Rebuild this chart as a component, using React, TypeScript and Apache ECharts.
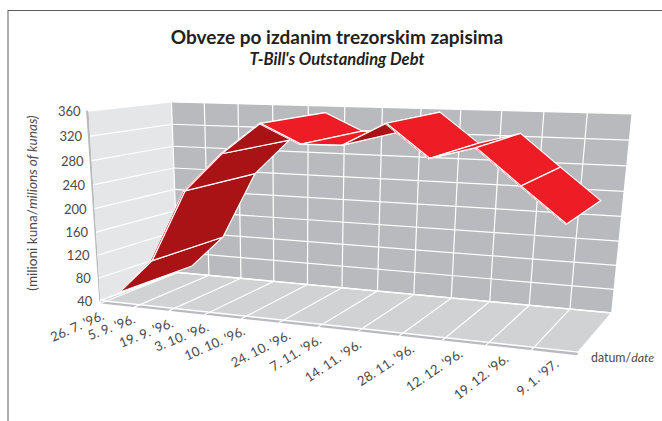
import React, { useEffect, useRef } from "react";
import * as echarts from "echarts";

const categories = ["26. 7. '96.", "5. 9. '96.", "19. 9. '96.", "3. 10. '96.", "10. 10. '96.", "24. 10. '96.", "7. 11. '96.", "14. 11. '96.", "28. 11. '96.", "12. 12. '96.", "19. 12. '96.", "9. 1. '97."];
const debt = [56, 117, 238, 300, 349, 320, 321, 355, 307, 325, 274, 224];
const yTicks = [40, 80, 120, 160, 200, 240, 280, 320, 360];
const yMin = 40;
const yMax = 360;

const W = 662;
const H = 421;
const FONT = "Lato, 'Noto Sans', sans-serif";
const WALL_BACK = "#B9BABD";
const WALL_SIDE = "#E5E6E8";
const FLOOR = "#D1D2D4";
const BRIGHT = "#EE1C25";
const DARK = "#A91316";
const TEXT = "#4A4A4C";

// camera anchors: unit-box corner -> page pixel
const anchors: [number, number, number, number, number][] = [
  [0, 0, 0, 101, 300],
  [1, 0, 0, 578, 353],
  [0, 0, 1, 177, 273],
  [1, 0, 1, 612, 312],
  [0, 1, 0, 88, 111],
  [0, 1, 1, 172, 102],
  [1, 1, 1, 632, 114],
];
const Z_FRONT = 0.035;
const Z_EDGE = 0.01;
const Z_BACK = 0.985;
// shift of each date label's end, from the centre of its floor cell
const labelDx = [-14, -17, -14, -15, -16, -9, -18, -19, -8, -3, -2, 2];
const labelDeg = [24, 21, 22, 22, 24, 27, 31, 34, 33, 34, 38, 39];

function solveCamera(): number[] {
  const rows: number[][] = [];
  const rhs: number[] = [];
  anchors.forEach(([x, y, z, u, v]) => {
    rows.push([x, y, z, 1, 0, 0, 0, 0, -u * x, -u * y, -u * z]);
    rhs.push(u);
    rows.push([0, 0, 0, 0, x, y, z, 1, -v * x, -v * y, -v * z]);
    rhs.push(v);
  });
  const n = 11;
  const M: number[][] = [];
  for (let i = 0; i < n; i++) {
    const r: number[] = [];
    for (let j = 0; j < n; j++) {
      let s = 0;
      rows.forEach((row) => (s += row[i] * row[j]));
      r.push(s);
    }
    let b = 0;
    rows.forEach((row, k) => (b += row[i] * rhs[k]));
    r.push(b);
    M.push(r);
  }
  for (let c = 0; c < n; c++) {
    let p = c;
    for (let i = c + 1; i < n; i++) if (Math.abs(M[i][c]) > Math.abs(M[p][c])) p = i;
    [M[c], M[p]] = [M[p], M[c]];
    for (let i = 0; i < n; i++) {
      if (i === c) continue;
      const f = M[i][c] / M[c][c];
      for (let j = c; j <= n; j++) M[i][j] -= f * M[c][j];
    }
  }
  return M.map((r, i) => r[n] / r[i]);
}
const cam = solveCamera();
const project = (x: number, y: number, z: number): [number, number] => {
  const w = cam[8] * x + cam[9] * y + cam[10] * z + 1;
  return [
    (cam[0] * x + cam[1] * y + cam[2] * z + cam[3]) / w,
    (cam[4] * x + cam[5] * y + cam[6] * z + cam[7]) / w,
  ];
};

export default function App() {
  const ref = useRef<HTMLDivElement>(null);
  useEffect(() => {
    const chart = echarts.init(ref.current!, null, { renderer: "svg" });
    const n = categories.length;
    const white = (lw: number) => ({ stroke: "#FFFFFF", lineWidth: lw, fill: "none" });
    const poly = (points: number[][], fill: string, lw = 0) => ({
      type: "polygon",
      shape: { points },
      style: { fill, stroke: lw ? "#FFFFFF" : "none", lineWidth: lw },
    });
    const seg = (a: number[], b: number[], lw = 1.2) => ({
      type: "line",
      shape: { x1: a[0], y1: a[1], x2: b[0], y2: b[1] },
      style: white(lw),
    });

    // api.coord -> unit box, through the hidden axes that fill the page
    const unit = (api: any, cat: number, val: number) => {
      const c = api.coord([cat, val]);
      return [c[0] / W, 1 - c[1] / H];
    };

    const scene = (params: any, api: any) => {
      const kids: any[] = [];
      kids.push(poly([project(0, 0, 0), project(0, 1, 0), [project(0, 1, 0)[0] - 2.5, project(0, 1, 0)[1] - 1], [project(0, 0, 0)[0] - 1, project(0, 0, 0)[1] + 1]], WALL_BACK));
      const fl = project(0, 0, 0);
      const fr = project(1, 0, 0);
      kids.push(poly([fl, fr, [fr[0] - 1, fr[1] + 3], [fl[0] + 1, fl[1] + 3]], WALL_BACK));
      kids.push(poly([project(0, 0, 0), project(0, 0, 1), project(0, 1, 1), project(0, 1, 0)], WALL_SIDE));
      kids.push(poly([project(0, 0, 1), project(1, 0, 1), project(1, 1, 1), project(0, 1, 1)], WALL_BACK));
      kids.push(poly([project(0, 0, 0), project(1, 0, 0), project(1, 0, 1), project(0, 0, 1)], FLOOR));
      yTicks.forEach((t) => {
        const y = unit(api, 0, t)[1];
        kids.push(seg(project(0, y, 0), project(0, y, 1)));
        kids.push(seg(project(0, y, 1), project(1, y, 1)));
        const p = project(0, y, 0);
        kids.push({
          type: "text",
          x: p[0] - 8,
          y: p[1],
          style: { text: String(t), fill: TEXT, font: `13px ${FONT}`, align: "right", verticalAlign: "middle" },
        });
      });
      for (let k = 0; k <= n; k++) {
        const x = k / n;
        kids.push(seg(project(x, 0, 1), project(x, 1, 1)));
        const f = project(x, 0, 0);
        kids.push(seg([f[0], f[1] + 3], project(x, 0, 1)));
      }
      kids.push(seg(project(0, 0, 0), project(1, 0, 0), 1.5));
      kids.push(seg(project(0, 0, 0), project(0, 0, 1), 1.5));
      kids.push(seg(project(0, 0, 1), project(1, 0, 1), 1.5));
      kids.push(seg(project(1, 0, 0), project(1, 0, 1), 1.5));
      categories.forEach((c, i) => {
        const x = unit(api, i, yMin)[0];
        const p = project(x, 0, 0);
        kids.push({
          type: "text",
          x: p[0] + labelDx[i],
          y: p[1] + 12,
          rotation: (labelDeg[i] * Math.PI) / 180,
          style: { text: c, fill: TEXT, font: `13.2px ${FONT}`, align: "right", verticalAlign: "middle" },
        });
      });
      return { type: "group", children: kids };
    };

    const ribbon = (params: any, api: any) => {
      const i = params.dataIndex;
      if (i >= n - 1) return null;
      const a = unit(api, i, debt[i]);
      const b = unit(api, i + 1, debt[i + 1]);
      const af = project(a[0], a[1], Z_FRONT);
      const ab = project(a[0], a[1], Z_BACK);
      const bf = project(b[0], b[1], Z_FRONT);
      const bb = project(b[0], b[1], Z_BACK);
      const ae = project(a[0], a[1], Z_EDGE);
      const be = project(b[0], b[1], Z_EDGE);
      const d1 = [bf[0] - af[0], bf[1] - af[1]];
      const d2 = [ab[0] - af[0], ab[1] - af[1]];
      const fill = d1[0] * d2[1] - d1[1] * d2[0] > 0 ? DARK : BRIGHT;
      return {
        type: "group",
        children: [
          poly([ae, be, bf, af], BRIGHT, 0.9),
          poly([af, bf, bb, ab], fill, 1.2),
        ],
      };
    };

    chart.setOption({
      animation: false,
      grid: { left: 0, right: 0, top: 0, bottom: 0 },
      xAxis: { type: "category", data: categories, show: false },
      yAxis: { type: "value", min: yMin, max: yMax, interval: 40, show: false },
      series: [
        { type: "custom", data: [[0, yMin]], renderItem: scene, silent: true, clip: false, z: 1 },
        { type: "custom", data: debt.map((v, i) => [i, v]), renderItem: ribbon, silent: true, clip: false, z: 2 },
      ],
      graphic: [
        { type: "line", shape: { x1: 8, y1: 10.5, x2: 662, y2: 10.5 }, style: { stroke: "#5A5A5A", lineWidth: 1 } },
        { type: "line", shape: { x1: 8, y1: 10, x2: 8, y2: 421 }, style: { stroke: "#5A5A5A", lineWidth: 1 } },
        { type: "text", x: 337, y: 36, style: { text: "Obveze po izdanim trezorskim zapisima", fill: "#231F20", font: `bold 19px ${FONT}`, align: "center", verticalAlign: "middle" } },
        { type: "text", x: 337, y: 59, style: { text: "T-Bill's Outstanding Debt", fill: "#231F20", font: `italic bold 16.5px ${FONT}`, align: "center", verticalAlign: "middle" } },
        {
          type: "text", x: 32, y: 203, rotation: Math.PI / 2,
          style: {
            text: "{a|(milioni kuna/}{b|milions of kunas)}", align: "center", verticalAlign: "middle",
            rich: { a: { fill: TEXT, font: `13.6px ${FONT}` }, b: { fill: TEXT, font: `italic 13.6px ${FONT}` } },
          },
        },
        {
          type: "text", x: 591, y: 357,
          style: {
            text: "{a|datum/}{b|date}", align: "left", verticalAlign: "middle",
            rich: { a: { fill: TEXT, font: `12.4px ${FONT}` }, b: { fill: TEXT, font: `italic 12.4px ${FONT}` } },
          },
        },
      ],
    });
    return () => chart.dispose();
  }, []);
  return <div ref={ref} style={{ position: "absolute", left: 0, top: 0, width: W, height: H }} />;
}
